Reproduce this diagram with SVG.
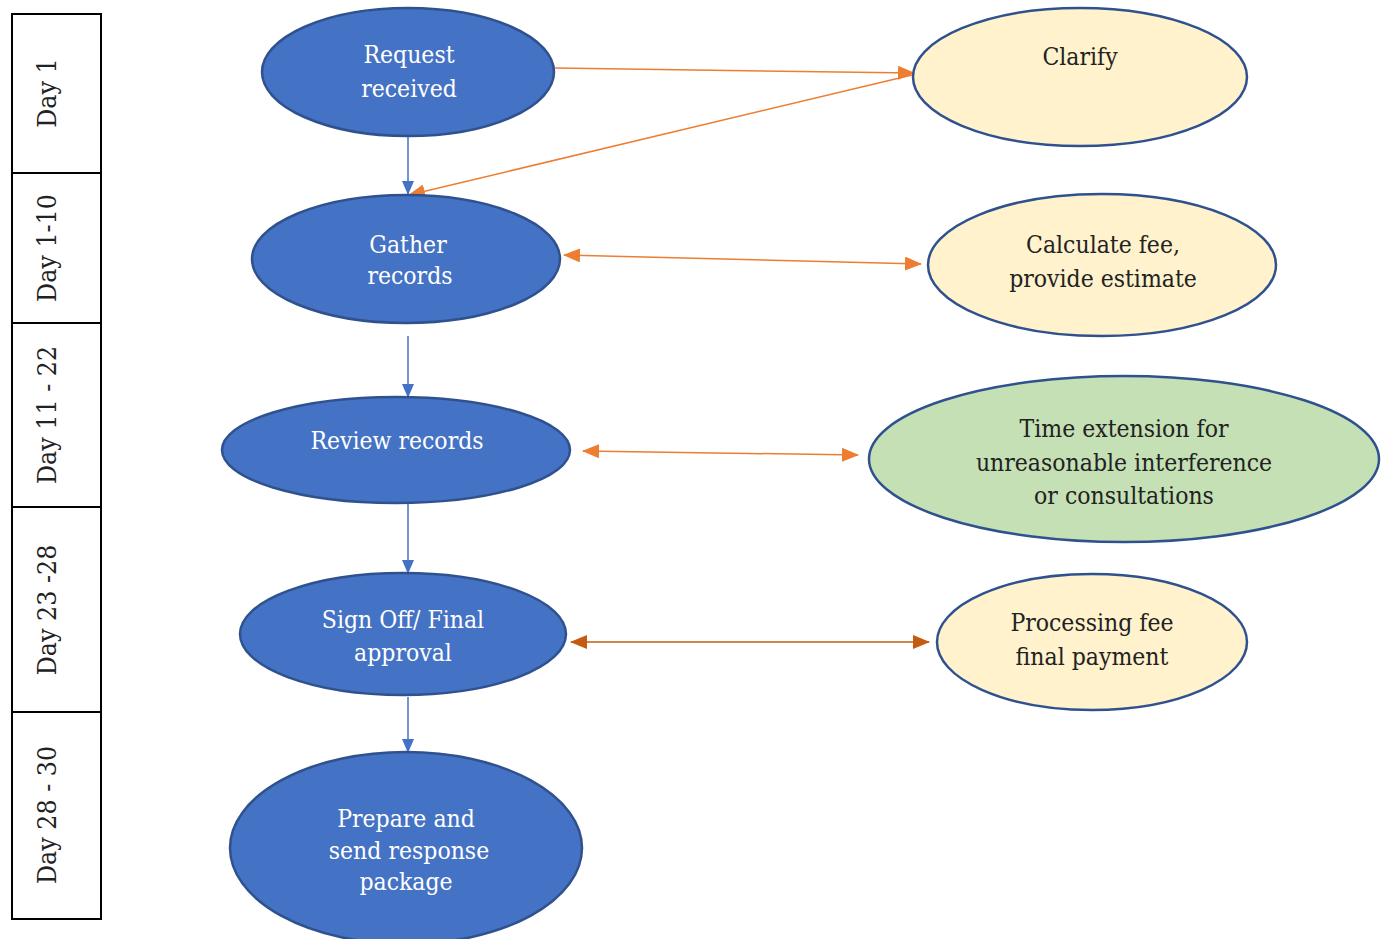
<svg xmlns="http://www.w3.org/2000/svg" width="1387" height="939" viewBox="0 0 1387 939">
<style>
text{font-family:"DejaVu Serif Condensed","Liberation Serif",serif;font-size:24.5px;text-anchor:middle}
.lab{font-size:26.5px}
.w{fill:#ffffff}
.d{fill:#222222}
.blue{fill:#4472C4;stroke:#2F528F;stroke-width:2.5}
.yel{fill:#FFF2CC;stroke:#2F528F;stroke-width:2.5}
.grn{fill:#C5E0B4;stroke:#2F528F;stroke-width:2.5}
.cb{stroke:#4472C4;stroke-width:1.5;fill:none}
.co{stroke:#ED7D31;stroke-width:1.5;fill:none}
.cd{stroke:#C55A11;stroke-width:1.5;fill:none}
.box{fill:none;stroke:#000;stroke-width:2}
</style>
<defs>
<marker id="ab" markerWidth="14" markerHeight="12" refX="13" refY="6" orient="auto" markerUnits="userSpaceOnUse"><path d="M0,0 L14,6 L0,12 Z" fill="#4472C4"/></marker>
<marker id="ao" markerWidth="17" markerHeight="14" refX="16" refY="7" orient="auto-start-reverse" markerUnits="userSpaceOnUse"><path d="M0,0 L17,7 L0,14 Z" fill="#ED7D31"/></marker>
<marker id="ad" markerWidth="17" markerHeight="14" refX="16" refY="7" orient="auto-start-reverse" markerUnits="userSpaceOnUse"><path d="M0,0 L17,7 L0,14 Z" fill="#C55A11"/></marker>
</defs>
<rect width="1387" height="939" fill="#fff"/>
<g id="timeline">
<rect class="box" x="12" y="14" width="89" height="905"/>
<line class="box" x1="12" y1="173" x2="101" y2="173"/>
<line class="box" x1="12" y1="323" x2="101" y2="323"/>
<line class="box" x1="12" y1="507" x2="101" y2="507"/>
<line class="box" x1="12" y1="712" x2="101" y2="712"/>
<text class="d lab" transform="translate(56,93) rotate(-90)">Day 1</text>
<text class="d lab" transform="translate(56,248) rotate(-90)">Day 1-10</text>
<text class="d lab" transform="translate(56,415) rotate(-90)">Day 11 - 22</text>
<text class="d lab" transform="translate(56,610) rotate(-90)">Day 23 -28</text>
<text class="d lab" transform="translate(56,815) rotate(-90)">Day 28 - 30</text>
</g>
<g id="connectors">
<line class="cb" x1="408" y1="137" x2="408" y2="194" marker-end="url(#ab)"/>
<line class="cb" x1="408" y1="336" x2="408" y2="397" marker-end="url(#ab)"/>
<line class="cb" x1="408" y1="504" x2="408" y2="573" marker-end="url(#ab)"/>
<line class="cb" x1="408" y1="697" x2="408" y2="752" marker-end="url(#ab)"/>
<line class="co" x1="555" y1="68" x2="914" y2="73" marker-end="url(#ao)"/>
<line class="co" x1="912" y1="75" x2="409" y2="195" marker-end="url(#ao)"/>
<line class="co" x1="564" y1="255" x2="921" y2="264" marker-start="url(#ao)" marker-end="url(#ao)"/>
<line class="co" x1="583" y1="451" x2="858" y2="455" marker-start="url(#ao)" marker-end="url(#ao)"/>
<line class="cd" x1="571" y1="642" x2="929" y2="642" marker-start="url(#ad)" marker-end="url(#ad)"/>
</g>
<g id="n1"><ellipse class="blue" cx="408" cy="72" rx="146" ry="64"/><text class="w" x="409" y="63">Request</text><text class="w" x="409" y="97">received</text></g>
<g id="n2"><ellipse class="blue" cx="406" cy="259" rx="154" ry="64"/><text class="w" x="408" y="253">Gather</text><text class="w" x="410" y="284">records</text></g>
<g id="n3"><ellipse class="blue" cx="396" cy="450" rx="174" ry="53"/><text class="w" x="397" y="449">Review records</text></g>
<g id="n4"><ellipse class="blue" cx="403" cy="634" rx="163" ry="61"/><text class="w" x="403" y="628">Sign Off/ Final</text><text class="w" x="403" y="661">approval</text></g>
<g id="n5"><ellipse class="blue" cx="406" cy="848" rx="176" ry="96"/><text class="w" x="406" y="827">Prepare and</text><text class="w" x="409" y="859">send response</text><text class="w" x="406" y="890">package</text></g>
<g id="r1"><ellipse class="yel" cx="1080" cy="77" rx="167" ry="69"/><text class="d" x="1080" y="65">Clarify</text></g>
<g id="r2"><ellipse class="yel" cx="1102" cy="265" rx="174" ry="71"/><text class="d" x="1103" y="253">Calculate fee,</text><text class="d" x="1103" y="287">provide estimate</text></g>
<g id="r3"><ellipse class="grn" cx="1124" cy="459" rx="255" ry="83"/><text class="d" x="1124" y="437">Time extension for</text><text class="d" x="1124" y="471">unreasonable interference</text><text class="d" x="1124" y="504">or consultations</text></g>
<g id="r4"><ellipse class="yel" cx="1092" cy="642" rx="155" ry="68"/><text class="d" x="1092" y="631">Processing fee</text><text class="d" x="1092" y="665">final payment</text></g>
</svg>
